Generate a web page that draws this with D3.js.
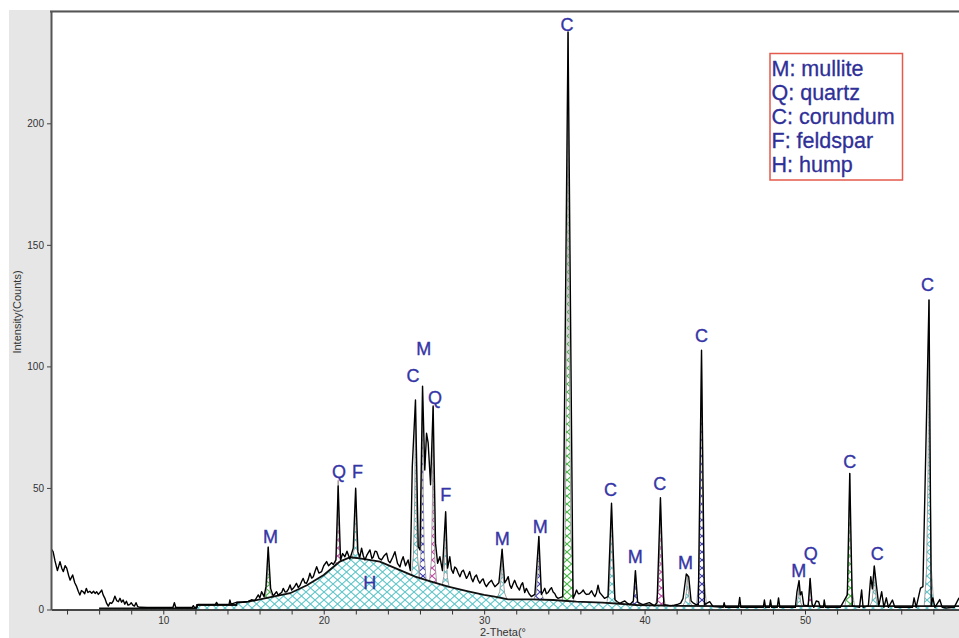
<!DOCTYPE html>
<html>
<head>
<meta charset="utf-8">
<script src="https://cdn.jsdelivr.net/npm/d3@7"></script>
<style>
  body { margin: 0; background: #fff; }
  svg { display: block; font-family: "Liberation Sans", Arial, sans-serif; }
</style>
</head>
<body>
<script>
const observed = [
  [3.0,25],[3.13,23.8],[3.25,20],[3.4,16],[3.56,19.7],[3.67,17],[3.77,15.6],[3.88,18],[3.98,17],[4.1,14],
  [4.19,12.1],[4.35,14.2],[4.48,11],[4.6,9.4],[4.7,7.5],[4.8,6],[4.9,7.8],[5.0,7.3],[5.1,6.5],[5.2,8.7],
  [5.3,7],[5.42,7.5],[5.54,6.7],[5.65,7.5],[5.75,6.6],[5.85,7.3],[5.95,6.2],[6.05,7],[6.16,8.0],[6.25,6],
  [6.36,4.6],[6.47,2.5],[6.57,1.4],[6.68,2.8],[6.78,2.5],[6.88,3.5],[6.98,5.5],[7.1,3.6],[7.2,3.2],[7.3,4.6],
  [7.4,3],[7.5,3.9],[7.6,2.2],[7.7,3.4],[7.8,1.8],[7.9,2],[8.0,2.8],[8.1,1.8],[8.2,1.4],[8.3,2.8],
  [8.4,1.2],[8.55,0.9],[9.0,0.8],[10.6,0.8],[10.69,2.8],[10.78,0.8],[11.8,0.8],[11.87,1.6],[11.95,0.8],[12.1,0.9],
  [12.15,2.1],[13.25,2.1],[13.32,2.9],[13.4,2.1],[14.1,2.1],[14.15,3.9],[14.22,2.2],[14.6,3.0],[15.0,3.1],[15.3,3.3],
  [15.5,4.0],[15.7,3.6],[15.92,6],[16.02,4.8],[16.13,7.3],[16.28,5.3],[16.4,9.4],[16.54,25.6],[16.69,8.7],[16.85,5.5],
  [16.95,6.4],[17.06,7.3],[17.17,5.8],[17.27,6.5],[17.38,7.0],[17.48,8.7],[17.59,7.2],[17.69,7.3],[17.8,8.4],[17.9,10.1],
  [18.0,8.0],[18.1,8.7],[18.2,9.6],[18.3,10.8],[18.42,9.0],[18.52,9.9],[18.62,11.5],[18.72,12.8],[18.82,11],[18.93,10.8],
  [19.04,12.5],[19.14,14.9],[19.25,12.9],[19.35,13.5],[19.45,15.5],[19.56,17.6],[19.7,15],[19.87,15.6],[20.0,18],[20.18,19.7],
  [20.3,18],[20.49,19.2],[20.6,18.5],[20.76,20.4],[20.9,50.8],[21.05,20.4],[21.18,23],[21.32,21.7],[21.45,24],[21.63,20.8],
  [21.84,25.2],[21.99,49.9],[22.13,23.7],[22.25,21.5],[22.36,25.2],[22.47,22],[22.57,20.4],[22.7,22.5],[22.88,24.5],[23.0,21],
  [23.08,21.5],[23.2,24],[23.3,23.8],[23.45,21],[23.6,20.4],[23.75,22],[23.92,23.1],[24.03,20],[24.13,19.2],[24.3,21.5],
  [24.44,23.8],[24.6,19],[24.75,17.5],[24.85,20],[24.95,21.7],[25.1,18],[25.26,20.4],[25.4,16],[25.52,58.7],[25.72,86.2],
  [25.89,25.8],[26.0,24.5],[26.16,91.9],[26.3,57.4],[26.41,72.5],[26.51,68.5],[26.66,51.3],[26.82,83.7],[26.97,27.2],[27.1,19],
  [27.24,21.7],[27.4,16],[27.6,40.2],[27.72,17],[27.86,21.7],[27.96,16.5],[28.07,14.9],[28.17,17.5],[28.27,16.9],[28.38,15],
  [28.49,13.5],[28.6,15.5],[28.7,16.2],[28.8,14.5],[28.9,12.8],[29.0,14],[29.1,15.6],[29.2,13],[29.3,11.4],[29.42,13.5],
  [29.52,14.2],[29.62,12.2],[29.73,10.8],[29.84,12],[29.94,12.6],[30.04,10.5],[30.14,9.4],[30.3,11],[30.46,12],[30.56,10.6],
  [30.67,9.4],[30.8,10.2],[30.92,11],[31.12,24.8],[31.28,11],[31.4,12.2],[31.5,13.5],[31.6,10],[31.7,8.7],[31.8,10.5],
  [31.9,12],[32.05,9.5],[32.2,8],[32.3,10],[32.4,11],[32.53,7],[32.63,8.7],[32.8,6.5],[32.94,5.3],[33.16,6.2],
  [33.41,30],[33.57,6.2],[33.68,7.4],[33.78,8.7],[33.88,6.5],[33.99,7],[34.1,8.2],[34.2,9],[34.3,7.2],[34.4,6.6],
  [34.5,5.2],[34.6,4.6],[34.9,5.3],[35.23,237.6],[35.54,4.6],[35.65,6],[35.76,8],[35.87,6.5],[35.97,6.6],[36.08,7.2],
  [36.18,8],[36.28,6.8],[36.38,6.2],[36.55,6.4],[36.7,7.7],[36.8,6.3],[36.9,5.3],[37.0,6.8],[37.1,10],[37.2,7],
  [37.3,6.2],[37.5,4.6],[37.72,5.3],[37.94,43.7],[38.15,4],[38.3,3.2],[38.46,2.5],[38.6,3],[38.77,3.5],[38.92,2.6],
  [39.08,2],[39.3,3.5],[39.43,16],[39.57,3],[39.75,2.4],[39.9,2],[40.1,2.4],[40.3,2.8],[40.45,2.2],[40.6,1.5],
  [40.78,2.8],[40.99,46],[41.2,2],[41.4,1.8],[41.6,1.5],[41.85,1.8],[42.1,2.2],[42.25,2.6],[42.4,4.6],[42.6,14.6],
  [42.75,13.5],[42.9,3.5],[43.05,2.6],[43.2,2],[43.35,2],[43.55,106.7],[43.73,2],[43.9,2.6],[44.06,3.2],[44.27,1.2],
  [44.9,0.9],[44.96,2.8],[45.03,0.9],[45.85,0.9],[45.93,5],[46.0,0.9],[47.4,0.9],[47.47,3.9],[47.54,0.9],[47.78,0.9],
  [47.85,3.9],[47.92,0.9],[48.27,0.9],[48.35,4.8],[48.43,0.9],[49.4,0.9],[49.5,7.3],[49.63,11.9],[49.71,6],[49.8,7.3],
  [49.92,1.8],[50.2,1.5],[50.32,12.8],[50.44,2.2],[50.55,0.9],[50.7,3.5],[50.85,3.2],[50.95,0.9],[51.15,0.9],[51.2,3.9],
  [51.27,0.9],[52.2,0.9],[52.64,6],[52.79,56],[52.95,1.5],[53.4,0.9],[53.53,8],[53.62,0.9],[53.95,1.5],[54.1,13.5],
  [54.2,8.5],[54.32,17.9],[54.46,9.5],[54.6,1.5],[54.78,7.3],[54.92,0.9],[55.07,4.8],[55.2,0.9],[55.45,3.9],[55.6,0.9],
  [56.7,0.9],[56.8,4.8],[56.93,0.9],[57.2,8.8],[57.35,9.4],[57.73,127.3],[57.87,1.5],[57.97,4.8],[58.1,0.9],[58.4,4.1],
  [58.55,0.9],[58.8,0.6],[59.3,0.9],[59.6,4.8]
];

// amorphous hump (background), [2theta, counts]
const hump = [
  [6.0,0.5],[12.05,0.5],[12.1,1.85],[14.55,1.85],[14.6,2.8],[15.3,3.2],[15.8,3.9],[16.85,5.3],[17.9,6.7],[18.95,10],
  [20.0,14.2],[21.0,19.7],[21.65,21.5],[22.25,21],[23.5,19.7],[24.75,16.2],[25.7,13.5],[26.7,11.5],[27.76,9.4],[29.0,7.5],
  [30.0,6],[30.65,5.3],[31.5,4.2],[33.0,4.2],[34.3,3.9],[35.75,3.2],[37.4,2.8],[39.5,1.85],[42.0,1.5],[45.0,1.4],[59.6,1.4]
];

// fitted peaks: phase, 2theta, net height above hump, half width at base
const peakPhase  = ["M","Q","F","C","M","Q","F","M","M","C","C","M","C","M","C","M","Q","C","C","C"];
const peakPos    = [16.54,20.9,21.99,25.72,26.16,26.82,27.6,31.12,33.41,35.23,37.94,39.43,40.99,42.67,43.55,49.63,50.32,52.79,54.32,57.73];
const peakHeight = [21,34,28,72,79,72,30,20,26,234,41,14,44,13,105,10,11,54.6,16.5,126];
const peakWidth  = [0.25,0.2,0.2,0.25,0.22,0.22,0.22,0.3,0.3,0.36,0.3,0.25,0.31,0.3,0.31,0.22,0.22,0.3,0.28,0.3];
const peakColor  = ["green","magenta","cyan","cyan","blue","magenta","cyan","cyan","blue","green","cyan","blue","magenta","cyan","blue","cyan","magenta","green","cyan","cyan"];

// label anchors in data units: [2theta centre, counts at baseline]
const labelAt = [
  [16.68,27.4],[20.95,54.1],[22.1,54.1],[25.56,93.7],[26.24,104.7],[26.93,84.5],[27.61,44.8],[31.13,26.5],[33.5,31.6],[35.17,238.1],
  [37.88,46.7],[39.42,19.3],[40.95,49.2],[42.55,16.7],[43.55,110.2],[49.61,13.5],[50.36,20.4],[52.79,58.2],[54.5,20.4],[57.64,131]
];
const humpLabel = [22.87, 8.3];

const legendItems = ["M: mullite", "Q: quartz", "C: corundum", "F: feldspar", "H: hump"];
const xTicks = d3.range(4, 60, 2);
const yTicks = [0, 50, 100, 150, 200];

const W = 959, H = 638;
const plot = {left: 51, top: 11, right: 959, bottom: 609.5};

const hatch = {green: "#46b846", magenta: "#c44aa8", blue: "#3c3cb4", cyan: "#62c6c9"};

const svg = d3.select("body").append("svg")
  .attr("width", W).attr("height", H);

const x = d3.scaleLinear().domain([3, 59.6]).range([plot.left, plot.right]);
const y = d3.scaleLinear().domain([0, 246.2]).range([plot.bottom, plot.top]);

// hatch patterns
const defs = svg.append("defs");
Object.entries(hatch).forEach(([k, c]) => {
  const p = defs.append("pattern")
    .attr("id", "hatch-" + k)
    .attr("patternUnits", "userSpaceOnUse")
    .attr("width", 9).attr("height", 8);
  p.append("path").attr("d", "M0,0L9,8M0,8L9,0")
    .attr("stroke", c).attr("stroke-width", 1.1).attr("fill", "none");
});
defs.append("clipPath").attr("id", "clip")
  .append("rect")
  .attr("x", plot.left).attr("y", plot.top)
  .attr("width", plot.right - plot.left).attr("height", plot.bottom - plot.top + 0.5);

// grey frame and white plot area
svg.append("rect").attr("x", 9).attr("y", 10).attr("width", W - 9).attr("height", H - 10).attr("fill", "#e6e6e6");
svg.append("rect").attr("x", plot.left).attr("y", plot.top)
  .attr("width", plot.right - plot.left).attr("height", plot.bottom - plot.top).attr("fill", "#fff");

const g = svg.append("g").attr("clip-path", "url(#clip)");

// hump
const bis = d3.bisector(d => d[0]).left;
function humpAt(t) {
  if (t <= hump[0][0]) return hump[0][1];
  const i = bis(hump, t);
  if (i >= hump.length) return hump[hump.length - 1][1];
  const a = hump[i - 1], b = hump[i];
  return a[1] + (b[1] - a[1]) * (t - a[0]) / (b[0] - a[0]);
}

g.append("path").datum(hump)
  .attr("fill", "url(#hatch-cyan)")
  .attr("d", d3.area().x(d => x(d[0])).y0(y(0)).y1(d => y(d[1])));

// peak components sitting on the hump
const shapeOff  = [-1, -0.5, -0.2, 0, 0.2, 0.5, 1];
const shapeFrac = [0, 0.12, 0.45, 1, 0.45, 0.12, 0];
peakPos.forEach((p, i) => {
  const pts = shapeOff.map((o, j) => {
    const t = p + o * peakWidth[i];
    return {t: t, b: humpAt(t), v: humpAt(t) + peakHeight[i] * shapeFrac[j]};
  });
  g.append("path").datum(pts)
    .attr("fill", "url(#hatch-" + peakColor[i] + ")")
    .attr("stroke", "#8a8a8a").attr("stroke-width", 0.8)
    .attr("d", d3.area().x(d => x(d.t)).y0(d => y(d.b)).y1(d => y(d.v)));
});

g.append("path").datum(hump)
  .attr("fill", "none").attr("stroke", "#111").attr("stroke-width", 1.8)
  .attr("d", d3.line().x(d => x(d[0])).y(d => y(d[1])));

// observed pattern
g.append("path").datum(observed)
  .attr("fill", "none").attr("stroke", "#000").attr("stroke-width", 1.4)
  .attr("stroke-linejoin", "round")
  .attr("d", d3.line().x(d => x(d[0])).y(d => y(d[1])));

// axes
const xAxis = d3.axisBottom(x).tickValues(xTicks).tickSize(5).tickSizeOuter(0)
  .tickFormat(d => d % 10 === 0 ? d : "");
const gx = svg.append("g").attr("transform", `translate(0,${plot.bottom})`).call(xAxis);
gx.select(".domain").attr("stroke", "#111").attr("stroke-width", 1.6);
gx.selectAll(".tick line").attr("stroke", "#333");
gx.selectAll(".tick text").attr("font-size", 10).attr("fill", "#333").attr("dy", "0.62em")
  .attr("font-family", "Liberation Sans, Arial, sans-serif");

const yAxis = d3.axisLeft(y).tickValues(yTicks).tickSize(4).tickSizeOuter(0);
const gy = svg.append("g").attr("transform", `translate(${plot.left},0)`).call(yAxis);
gy.select(".domain").attr("stroke", "#555").attr("stroke-width", 2);
gy.selectAll(".tick line").attr("stroke", "#444");
gy.selectAll(".tick text").attr("font-size", 10).attr("fill", "#333")
  .attr("font-family", "Liberation Sans, Arial, sans-serif");

svg.append("line").attr("x1", plot.left - 1).attr("x2", plot.right)
  .attr("y1", plot.top + 0.5).attr("y2", plot.top + 0.5)
  .attr("stroke", "#555").attr("stroke-width", 2);

svg.append("text").attr("x", 480).attr("y", 636).attr("font-size", 11).attr("fill", "#333")
  .text("2-Theta(°");
svg.append("text").attr("transform", "translate(21,312) rotate(-90)")
  .attr("text-anchor", "middle").attr("font-size", 11).attr("fill", "#333")
  .text("Intensity(Counts)");

// peak labels
const labelColor = "#3535a6";
svg.append("g").selectAll("text").data(peakPhase).join("text")
  .attr("x", (d, i) => x(labelAt[i][0]))
  .attr("y", (d, i) => y(labelAt[i][1]))
  .attr("text-anchor", "middle")
  .attr("font-size", 18).attr("fill", labelColor)
  .attr("stroke", labelColor).attr("stroke-width", 0.35)
  .text(d => d);
svg.append("text").attr("x", x(humpLabel[0])).attr("y", y(humpLabel[1]))
  .attr("text-anchor", "middle").attr("font-size", 18).attr("fill", labelColor)
  .attr("stroke", labelColor).attr("stroke-width", 0.35).text("H");

// legend
const lg = svg.append("g");
lg.append("rect").attr("x", 770).attr("y", 53.5).attr("width", 132.5).attr("height", 126.5)
  .attr("fill", "#fff").attr("stroke", "#e55a4c").attr("stroke-width", 1.5);
lg.selectAll("text").data(legendItems).join("text")
  .attr("x", 771.5).attr("y", (d, i) => 75.5 + i * 24.2)
  .attr("font-size", 21.5).attr("fill", "#2f2f98")
  .attr("stroke", "#2f2f98").attr("stroke-width", 0.3)
  .text(d => d);
</script>
</body>
</html>
